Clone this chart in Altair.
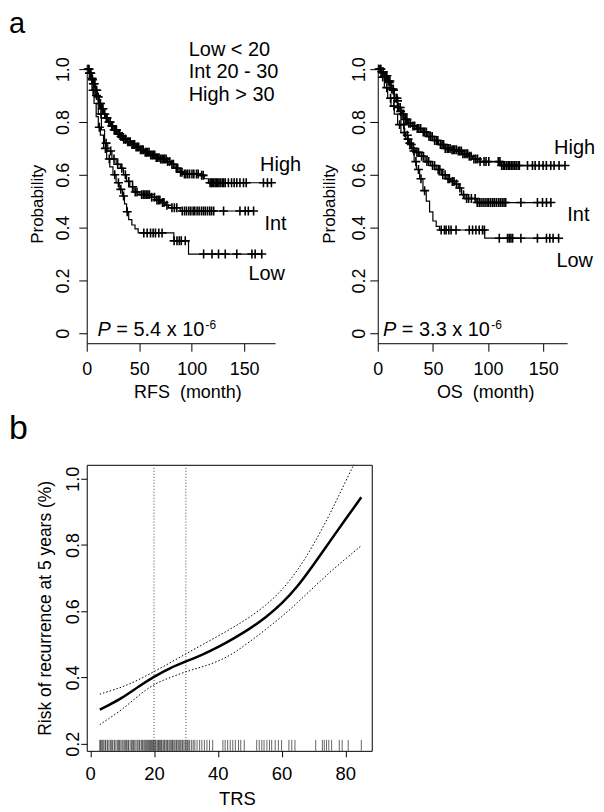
import altair as alt
import pandas as pd

FONT = "Liberation Sans"
CROSS = "M-1,0L1,0M0,-1L0,1"

# ---------------- Panel a : RFS (left) ----------------
rfs_high_t = [0, 2, 4, 6, 8, 10, 12, 14, 16, 18, 20, 23, 26, 29, 32, 35, 38, 42, 46, 50,
              55, 60, 65, 70, 76, 80, 84, 88, 92, 108, 112, 116, 176]
rfs_high_s = [1.0, 0.985, 0.965, 0.945, 0.92, 0.895, 0.87, 0.85, 0.83, 0.815, 0.80, 0.785,
              0.77, 0.755, 0.745, 0.735, 0.725, 0.715, 0.705, 0.695, 0.685, 0.675, 0.665,
              0.66, 0.65, 0.64, 0.625, 0.61, 0.603, 0.598, 0.585, 0.57, 0.57]
rfs_high_c = [1.5, 2.6, 3.8, 5.1, 6.3, 7.2, 8.8, 9.5, 10.9, 12.4, 13.1, 14.8, 15.5, 17.2, 18.6,
              19.4, 21.1, 22.3, 23.8, 24.6, 26.2, 27.5, 28.3, 30.1, 31.4, 32.7, 33.9, 35.2,
              36.6, 37.3, 39.0, 40.2, 41.5, 43.1, 44.4, 45.6, 47.0, 48.3, 49.5, 51.2, 52.6,
              53.8, 55.7, 56.9, 58.1, 59.4, 61.0, 62.3, 63.5, 64.8, 66.2, 67.4, 68.9, 70.5,
              71.8, 73.0, 74.3, 75.6, 77.1, 79.0, 81.2, 82.6, 85.3, 86.7, 89.4, 90.8, 93.1,
              94.5, 96.2, 98.0, 100.3, 102.1, 104.6, 106.2, 109.5, 111.0, 117.5, 118.6, 119.8,
              121.0, 122.3, 123.5, 124.7, 126.0, 127.4, 129.1, 130.5, 132.0, 135.0, 138.0,
              140.5, 143.0, 146.0, 149.4, 152.0, 168.4, 172.2, 176.0]

rfs_int_t = [0, 4, 8, 11, 14, 17, 20, 24, 28, 32, 35, 38, 41, 45, 50, 60, 66, 71, 75, 78, 89, 159]
rfs_int_s = [1.0, 0.96, 0.9, 0.83, 0.77, 0.72, 0.69, 0.66, 0.64, 0.625, 0.60, 0.575, 0.555,
             0.535, 0.525, 0.515, 0.505, 0.495, 0.485, 0.475, 0.463, 0.463]
rfs_int_c = [2.2, 5.5, 9.3, 13.6, 18.5, 22.8, 26.0, 29.5, 33.4, 36.8, 40.1, 43.7, 46.2, 47.9,
             52.3, 53.9, 55.4, 56.8, 58.3, 59.7, 61.9, 64.6, 66.9, 68.4, 69.7, 72.2, 73.6,
             76.4, 81.2, 83.5, 85.8, 91.0, 93.2, 95.1, 97.3, 99.2, 101.4, 103.0, 105.2, 107.1,
             109.3, 111.2, 113.0, 115.1, 117.2, 119.0, 121.0, 130.4, 146.0, 151.0, 154.0, 159.0]

rfs_low_t = [0, 3, 5, 7, 9, 11, 13, 16, 19, 22, 25, 28, 31, 34, 36, 38, 40, 43, 46, 49, 83, 97, 167]
rfs_low_s = [1.0, 0.96, 0.92, 0.87, 0.82, 0.78, 0.75, 0.70, 0.66, 0.63, 0.60, 0.57, 0.545,
             0.52, 0.49, 0.46, 0.43, 0.41, 0.395, 0.38, 0.35, 0.30, 0.30]
rfs_low_c = [6.1, 12.0, 17.8, 21.5, 26.7, 30.2, 32.5, 35.1, 38.6, 54.4, 57.6, 60.8, 63.3, 65.5,
             68.7, 71.8, 83.3, 86.0, 88.2, 90.1, 93.9, 111.4, 119.4, 125.6, 132.0, 143.0,
             157.4, 160.5, 166.8]

# ---------------- Panel a : OS (right) ----------------
os_high_t = [0, 3, 6, 9, 12, 15, 18, 21, 24, 27, 31, 35, 40, 45, 50, 55, 60, 66, 72, 76, 82,
             86, 92, 111, 170]
os_high_s = [1.0, 0.99, 0.975, 0.955, 0.925, 0.89, 0.855, 0.83, 0.81, 0.795, 0.785, 0.775,
             0.762, 0.745, 0.73, 0.715, 0.70, 0.695, 0.69, 0.68, 0.67, 0.66, 0.65, 0.635, 0.635]
os_high_c = [1.2, 2.4, 3.7, 4.9, 6.2, 7.5, 8.3, 9.8, 11.0, 12.6, 13.9, 15.2, 16.8, 17.5, 19.1,
             20.4, 22.0, 23.3, 25.1, 26.4, 28.2, 29.6, 31.9, 33.5, 35.8, 37.2, 38.9, 41.3,
             42.7, 44.1, 46.5, 48.0, 49.4, 51.6, 53.2, 54.5, 56.8, 58.3, 59.7, 61.2, 62.9,
             64.1, 65.6, 67.3, 68.5, 69.8, 71.3, 73.0, 74.4, 75.8, 77.2, 78.6, 80.1, 81.5,
             83.0, 84.6, 87.2, 88.9, 90.5, 92.8, 96.4, 98.2, 100.7, 109.3, 110.8, 112.4, 113.9,
             115.2, 116.8, 118.3, 119.7, 121.2, 122.6, 124.1, 125.5, 127.3, 128.4, 135.8,
             140.3, 142.7, 146.3, 149.9, 152.9, 156.9, 159.9, 164.4, 169.8]

os_int_t = [0, 3, 6, 9, 12, 15, 18, 21, 24, 27, 30, 34, 38, 43, 48, 53, 58, 62, 66, 70, 73,
            76, 79, 90, 157]
os_int_s = [1.0, 0.985, 0.97, 0.95, 0.92, 0.88, 0.84, 0.79, 0.75, 0.72, 0.70, 0.685, 0.67,
            0.65, 0.635, 0.62, 0.60, 0.585, 0.575, 0.565, 0.55, 0.525, 0.51, 0.495, 0.495]
os_int_c = [2.8, 6.6, 10.5, 14.2, 17.9, 20.7, 23.6, 26.8, 29.1, 32.2, 35.5, 37.0, 39.8, 41.5,
            44.6, 46.2, 49.7, 51.5, 54.8, 56.3, 59.0, 61.1, 63.7, 65.0, 67.6, 69.2, 71.4,
            74.5, 77.8, 80.6, 82.4, 84.9, 88.3, 90.2, 92.0, 93.7, 95.5, 97.3, 99.1, 100.6,
            102.4, 104.2, 105.7, 107.5, 109.4, 111.0, 112.8, 114.5, 116.0, 129.8, 144.8,
            149.4, 153.0, 157.0]

os_low_t = [0, 3, 6, 9, 12, 15, 18, 21, 25, 28, 31, 33, 35, 38, 41, 44, 47, 50, 53, 56, 97, 164]
os_low_s = [1.0, 0.97, 0.93, 0.89, 0.86, 0.83, 0.79, 0.76, 0.735, 0.715, 0.69, 0.65, 0.62,
            0.585, 0.54, 0.50, 0.46, 0.425, 0.405, 0.391, 0.36, 0.36]
os_low_c = [4.5, 8.2, 11.6, 14.7, 19.8, 24.3, 27.5, 30.4, 32.8, 34.6, 36.9, 39.2, 42.5, 57.5,
            60.5, 62.0, 64.4, 66.5, 71.0, 83.0, 86.0, 89.0, 92.0, 95.0, 96.7, 110.2, 117.7,
            119.2, 120.8, 122.3, 129.8, 144.8, 153.0, 156.0, 159.0, 164.0]

KM_XTICKS = [0, 50, 100, 150]
KM_YTICKS = [0, 0.2, 0.4, 0.6, 0.8, 1.0]
KM_Y = [-0.0377, 1.0189]

legend_lines = ["Low < 20", "Int 20 - 30", "High > 30"]
legend_t = [97.2, 97.2, 97.2]
legend_s = [1.0509, 0.9660, 0.8811]

curve_names = ["High", "Int", "Low"]
rfs_lab_t = [165.2, 169.3, 154.1]
rfs_lab_s = [0.613, 0.391, 0.203]
os_lab_t = [159.9, 171.9, 162.0]
os_lab_s = [0.680, 0.425, 0.250]

# ---------------- Panel b ----------------
trs_x = [3, 5, 10, 15, 20, 25, 30, 35, 40, 45, 50, 55, 60, 65, 70, 75, 80, 85]
risk_fit = [0.303, 0.313, 0.338, 0.372, 0.403, 0.429, 0.449, 0.468, 0.491, 0.518, 0.547,
            0.581, 0.622, 0.674, 0.740, 0.809, 0.877, 0.944]
risk_hi = [0.350, 0.356, 0.371, 0.392, 0.418, 0.444, 0.472, 0.498, 0.525, 0.552, 0.582,
           0.617, 0.662, 0.722, 0.800, 0.890, 0.990, 1.090]
risk_lo = [0.258, 0.271, 0.303, 0.345, 0.381, 0.400, 0.418, 0.432, 0.448, 0.473, 0.508,
           0.545, 0.583, 0.626, 0.672, 0.717, 0.758, 0.798]
cut_points = [20, 30]
rug_trs = [3.0, 3.2, 3.5, 3.9, 4.1, 4.6, 4.8, 5.3, 5.5, 5.9, 6.4, 6.6, 7.0, 7.5, 7.7, 8.1,
           8.6, 8.9, 9.2, 9.6, 10.0, 10.3, 10.7, 11.1, 11.4, 11.8, 12.0, 12.5, 12.9, 13.2,
           13.6, 13.8, 14.3, 14.7, 15.0, 15.4, 15.6, 16.1, 16.4, 16.8, 17.1, 17.4, 17.7,
           18.0, 18.3, 18.6, 18.9, 19.2, 19.5, 19.8, 20.0, 20.3, 20.5, 20.9, 21.2, 21.4,
           21.7, 22.0, 22.3, 22.5, 22.9, 23.2, 23.4, 23.8, 24.1, 24.3, 24.7, 25.0, 25.3,
           25.6, 25.8, 26.2, 26.5, 26.9, 27.1, 27.5, 27.8, 28.1, 28.4, 28.8, 29.0, 29.4,
           29.8, 30.1, 30.5, 30.9, 31.2, 31.8, 32.3, 32.8, 33.5, 34.3, 35.0, 35.8, 36.6,
           37.4, 38.4, 41.6, 42.3, 43.1, 43.9, 44.7, 45.5, 46.5, 47.2, 48.3, 52.2, 53.0,
           53.8, 54.5, 55.4, 56.2, 56.9, 58.0, 59.0, 60.0, 62.3, 63.2, 64.2, 70.7, 72.8,
           73.4, 74.1, 74.8, 75.7, 78.1, 79.0, 80.9, 85.0]


def surv_at(ts, ss, t):
    v = ss[0]
    for ti, si in zip(ts, ss):
        if ti <= t:
            v = si
    return v


def km_panel(curves, xmax, width, xtitle, xtitle_x, ylab_pad, ytitle_x,
             lab_t, lab_s, p_t, p_val, letter=False):
    xs = alt.Scale(domain=[0, xmax], nice=False, zero=False)
    ys = alt.Scale(domain=KM_Y, nice=False, zero=False)
    X = alt.X("t:Q", scale=xs, axis=alt.Axis(
        values=KM_XTICKS, tickSize=8, labelPadding=9, labelFontSize=18,
        title=xtitle, titleFontSize=18, titleX=xtitle_x, titleY=54,
        titleAlign="center", titleBaseline="alphabetic"))
    Y = alt.Y("s:Q", scale=ys, axis=alt.Axis(
        values=KM_YTICKS, labelExpr="datum.value == 0 ? '0' : format(datum.value, '.1f')",
        tickSize=8, labelPadding=ylab_pad, labelFontSize=18, labelAngle=270,
        labelAlign="center", labelBaseline="alphabetic",
        title="Probability", titleFontSize=17, titleAngle=270, titleX=ytitle_x,
        titleY=140, titleAlign="center", titleBaseline="alphabetic"))

    line_df = pd.concat([pd.DataFrame({"t": c[0], "s": c[1], "g": n}) for n, c in curves.items()])
    cens_df = pd.concat([pd.DataFrame({"t": c[2], "s": [surv_at(c[0], c[1], x) for x in c[2]]})
                         for c in curves.values()])
    lab_df = pd.DataFrame({"t": lab_t, "s": lab_s, "label": curve_names})
    p_df = pd.DataFrame({"t": [p_t], "s": [-0.0113]})

    layers = [
        alt.Chart(line_df).mark_line(interpolate="step-after", color="black", strokeWidth=1.2)
        .encode(x=X, y=Y, detail="g:N"),
        alt.Chart(cens_df).mark_point(shape=CROSS, size=81, filled=False, color="black",
                                      strokeWidth=1.6, opacity=1).encode(x=X, y=Y),
        alt.Chart(lab_df).mark_text(align="left", baseline="alphabetic", fontSize=20)
        .encode(x=X, y=Y, text="label:N"),
        alt.Chart(p_df).mark_text(text="P", fontStyle="italic", align="left",
                                  baseline="alphabetic", fontSize=20).encode(x=X, y=Y),
        alt.Chart(p_df).mark_text(text=p_val, dx=18.9, align="left",
                                  baseline="alphabetic", fontSize=20).encode(x=X, y=Y),
        alt.Chart(p_df).mark_text(text="-6", dx=108.5, dy=-7, align="left",
                                  baseline="alphabetic", fontSize=12).encode(x=X, y=Y),
    ]
    if letter:
        leg_df = pd.DataFrame({"t": legend_t, "s": legend_s, "label": legend_lines})
        a_df = pd.DataFrame({"t": [-74.08], "s": [1.1359], "label": ["a"]})
        layers.append(alt.Chart(leg_df).mark_text(align="left", baseline="alphabetic",
                                                  fontSize=20).encode(x=X, y=Y, text="label:N"))
        layers.append(alt.Chart(a_df).mark_text(align="left", baseline="alphabetic",
                                                fontSize=29).encode(x=X, y=Y, text="label:N"))
    return alt.layer(*layers).properties(width=width, height=280)


left = km_panel({"High": (rfs_high_t, rfs_high_s, rfs_high_c),
                 "Int": (rfs_int_t, rfs_int_s, rfs_int_c),
                 "Low": (rfs_low_t, rfs_low_s, rfs_low_c)},
                179.5, 189, "RFS \u00a0(month)", 101, 10, -44.2,
                rfs_lab_t, rfs_lab_s, 10.2, "= 5.4 x 10", letter=True)
right = km_panel({"High": (os_high_t, os_high_s, os_high_c),
                  "Int": (os_int_t, os_int_s, os_int_c),
                  "Low": (os_low_t, os_low_s, os_low_c)},
                 171.7, 190, "OS \u00a0(month)", 107.8, 5.3, -43.2,
                 os_lab_t, os_lab_s, 4.8, "= 3.3 x 10")

# ---------------- panel b chart ----------------
xs_b = alt.Scale(domain=[-1.094, 88.28], nice=False, zero=False)
ys_b = alt.Scale(domain=[0.1789, 1.0421], nice=False, zero=False)
XB = alt.X("v:Q", scale=xs_b, axis=alt.Axis(
    values=[0, 20, 40, 60, 80], domain=False, tickSize=6, labelPadding=8, labelFontSize=18.5,
    title="TRS", titleFontSize=18.5, titleX=150.7, titleY=53.5, titleAlign="center",
    titleBaseline="alphabetic"))
YB = alt.Y("r:Q", scale=ys_b, axis=alt.Axis(
    values=[0.2, 0.4, 0.6, 0.8, 1.0], format=".1f", domain=False, tickSize=6, labelPadding=2,
    labelFontSize=18, labelAngle=270, labelAlign="center", labelBaseline="alphabetic",
    title="Risk of recurrence at 5 years (%)", titleFontSize=17.5, titleAngle=270,
    titleX=-36, titleY=143.5, titleAlign="center", titleBaseline="alphabetic"))

fit_df = pd.DataFrame({"v": trs_x, "r": risk_fit})
hi_df = pd.DataFrame({"v": trs_x, "r": risk_hi})
lo_df = pd.DataFrame({"v": trs_x, "r": risk_lo})
cut_df = pd.DataFrame({"v": cut_points})
rug_df = pd.DataFrame({"v": rug_trs})
b_df = pd.DataFrame({"v": [-25.47], "r": [1.1203], "label": ["b"]})

panel_b = alt.layer(
    alt.Chart(cut_df).mark_rule(color="#444", strokeWidth=1, strokeDash=[1, 2]).encode(x=XB),
    alt.Chart(rug_df).mark_rule(color="#222", strokeWidth=0.7).encode(
        x=XB, y=alt.value(287), y2=alt.value(276)),
    alt.Chart(hi_df).mark_line(color="black", strokeWidth=1, strokeDash=[1.5, 2],
                               interpolate="basis", clip=True).encode(x=XB, y=YB),
    alt.Chart(lo_df).mark_line(color="black", strokeWidth=1, strokeDash=[1.5, 2],
                               interpolate="basis", clip=True).encode(x=XB, y=YB),
    alt.Chart(fit_df).mark_line(color="black", strokeWidth=2.5,
                                interpolate="basis", clip=True).encode(x=XB, y=YB),
    alt.Chart(b_df).mark_text(align="left", baseline="alphabetic", fontSize=34)
    .encode(x=XB, y=YB, text="label:N"),
).properties(width=286, height=287,
             view=alt.ViewBackground(stroke="black", strokeWidth=1))

# The nested hconcat row counts as zero height in a flush layout, so the
# vertical spacing is the row height (280) plus the gap (122).
top = alt.hconcat(left, right, spacing=103, bounds="flush")
chart = alt.vconcat(top, panel_b, spacing=402, bounds="flush").properties(padding=0)
chart = chart.configure_view(strokeWidth=0).configure_axis(
    grid=False, labelFont=FONT, titleFont=FONT, labelColor="black", titleColor="black",
    tickColor="black", domainColor="black", tickWidth=1, domainWidth=1,
    titleFontWeight="normal", labelFlush=False, labelOverlap=False
).configure_text(font=FONT, color="black")

chart.save("out.html", embed_options={"renderer": "svg", "actions": False})
